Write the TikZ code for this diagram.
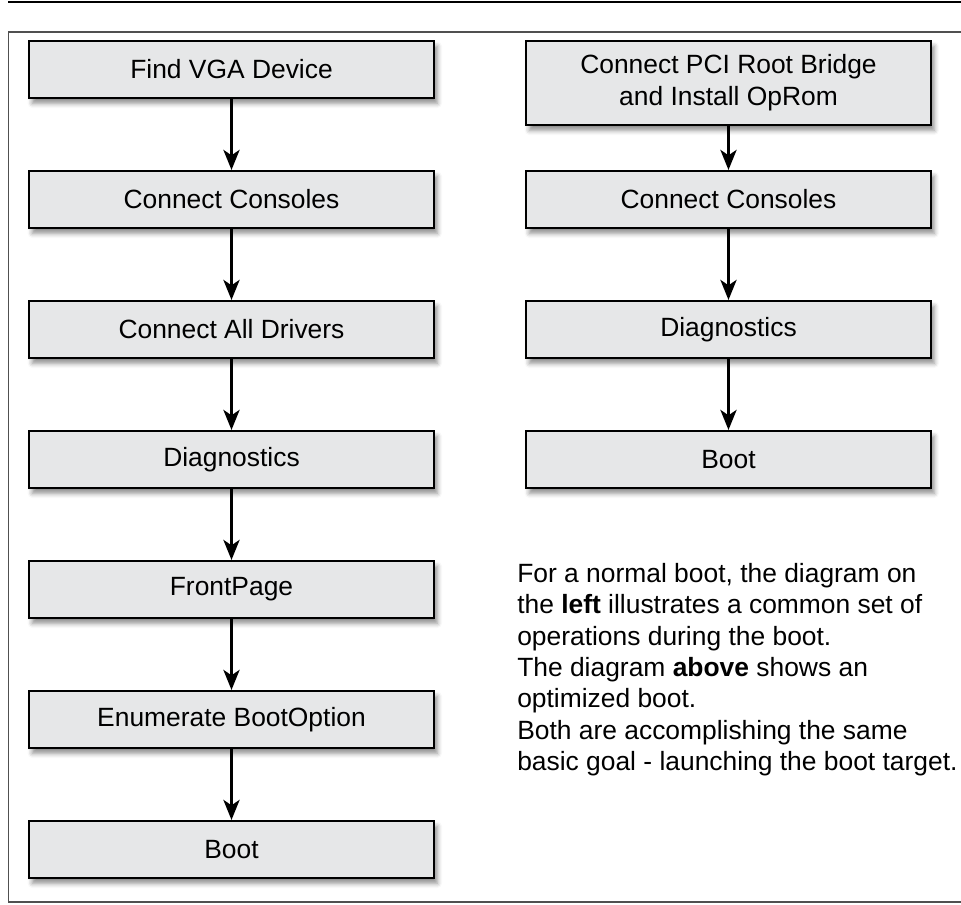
\documentclass[tikz,border=0pt]{standalone}
\usepackage{fontspec}
\setmainfont{Liberation Sans}
\usetikzlibrary{arrows.meta,shadows.blur}
\definecolor{boxfill}{RGB}{230,231,232}
\definecolor{framegray}{RGB}{80,80,80}
\begin{document}
\begin{tikzpicture}[x=0.75pt,y=-0.75pt,
  stepbox/.style={draw=black, line width=1.5pt, fill=boxfill,
    minimum width=303.75pt, minimum height=42.75pt, inner sep=0pt,
    align=center, font=\fontsize{19.8}{24}\selectfont,
    blur shadow={shadow xshift=2.5pt, shadow yshift=-4pt,
      shadow blur radius=3.5pt, shadow opacity=45}},
  flow/.style={line width=2.6pt, -{Stealth[length=15pt,width=12pt,inset=4pt]}}]
\useasboundingbox (0,0) rectangle (961,904);
\draw[line width=1.6pt] (8,2) -- (961,2);
\draw[framegray, line width=1.2pt] (961,32) -- (8.5,32) -- (8.5,902) -- (961,902);

% left column
\node[stepbox] (l1) at (231.5,69.5) {Find VGA Device};
\node[stepbox] (l2) at (231.5,199.5) {Connect Consoles};
\node[stepbox] (l3) at (231.5,329.5) {Connect All Drivers};
\node[stepbox] (l4) at (231.5,459.5) {Diagnostics};
\node[stepbox] (l5) at (231.5,589.5) {FrontPage};
\node[stepbox] (l6) at (231.5,719.5) {Enumerate BootOption};
\node[stepbox] (l7) at (231.5,849.5) {Boot};

% right column
\node[stepbox, minimum height=63pt] (r1) at (728.5,83) {Connect PCI Root Bridge\\and Install OpRom};
\node[stepbox] (r2) at (728.5,199.5) {Connect Consoles};
\node[stepbox] (r3) at (728.5,329.5) {Diagnostics};
\node[stepbox] (r4) at (728.5,459.5) {Boot};

\foreach \a/\b in {l1/l2,l2/l3,l3/l4,l4/l5,l5/l6,l6/l7,r1/r2,r2/r3,r3/r4}
  \draw[flow] (\a.south) -- (\b.north);

\node[anchor=north west, inner sep=0pt, align=left,
      font=\fontsize{19.8}{23.5}\selectfont] (note) at (517,563)
  {For a normal boot, the diagram on\\
   the \textbf{left} illustrates a common set of\\
   operations during the boot.\\
   The diagram \textbf{above} shows an\\
   optimized boot.\\
   Both are accomplishing the same\\
   basic goal - launching the boot target.};
\end{tikzpicture}
\end{document}
